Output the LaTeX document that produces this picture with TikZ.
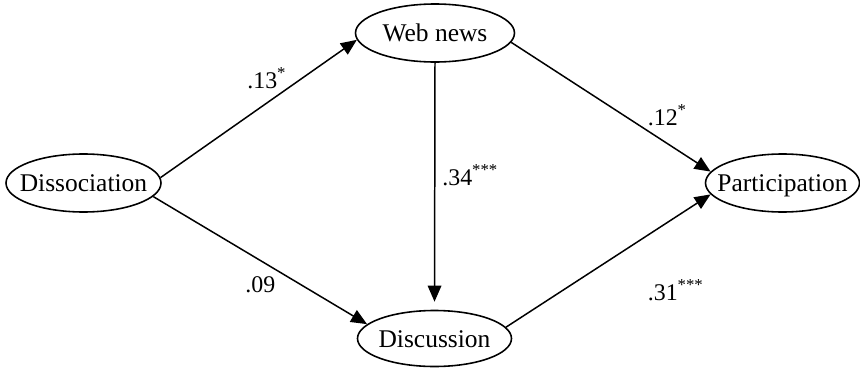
\documentclass[tikz,border=0pt]{standalone}
\usepackage{fontspec}
\setmainfont{Liberation Serif}
\newfontfamily\pathfont{Liberation Serif}
\usetikzlibrary{shapes.geometric,arrows.meta,positioning}

% keep the ellipse from growing with its text
\newcommand{\vtext}[1]{\makebox[0pt]{#1}}

\begin{document}
\begin{tikzpicture}[>={Triangle[length=0.32cm,width=0.27cm]},
  every node/.style={font=\pathfont\fontsize{14.5}{16}\selectfont},
  var/.style={draw, ellipse, line width=0.9pt, minimum width=3.1cm, minimum height=1.16cm,
    inner sep=0pt, text height=0.35cm, text depth=0pt},
  link/.style={->, line width=0.85pt},
  coef/.style={font=\pathfont\fontsize{13.6}{15}\selectfont, inner sep=0pt, anchor=base west}]

  \useasboundingbox (0,0) rectangle (17.2,7.38);

  % Variables
  \node[var] (diss) at (1.67,3.72) {\vtext{Dissociation}};
  \node[var, minimum width=3.18cm] (web) at (8.70,6.72) {\vtext{Web news}};
  \node[var, minimum width=3.08cm, minimum height=1.12cm] (disc) at (8.69,0.61) {\vtext{Discussion}};
  \node[var, minimum width=3.08cm] (part) at (15.65,3.72) {\vtext{Participation}};

  % Paths
  \draw[link] (diss.4) -- (web.185);
  \draw[link] (diss.-11) -- (disc.168);
  \draw[link, shorten >=0.16cm] (web.south) -- (disc.north);
  \draw[link] (web.-7) -- (part.171);
  \draw[link] (disc.9) -- (part.189);

  % Coefficients
  \node[coef] (c13) at (4.94,5.62) {.13\textsuperscript{*}};
  \node[coef] (c09) at (4.90,1.54) {.09};
  \node[coef] (c34) at (8.84,3.68) {.34\textsuperscript{***}};
  \node[coef] (c12) at (12.95,4.88) {.12\textsuperscript{*}};
  \node[coef] (c31) at (12.95,1.38) {.31\textsuperscript{***}};
\end{tikzpicture}
\end{document}
